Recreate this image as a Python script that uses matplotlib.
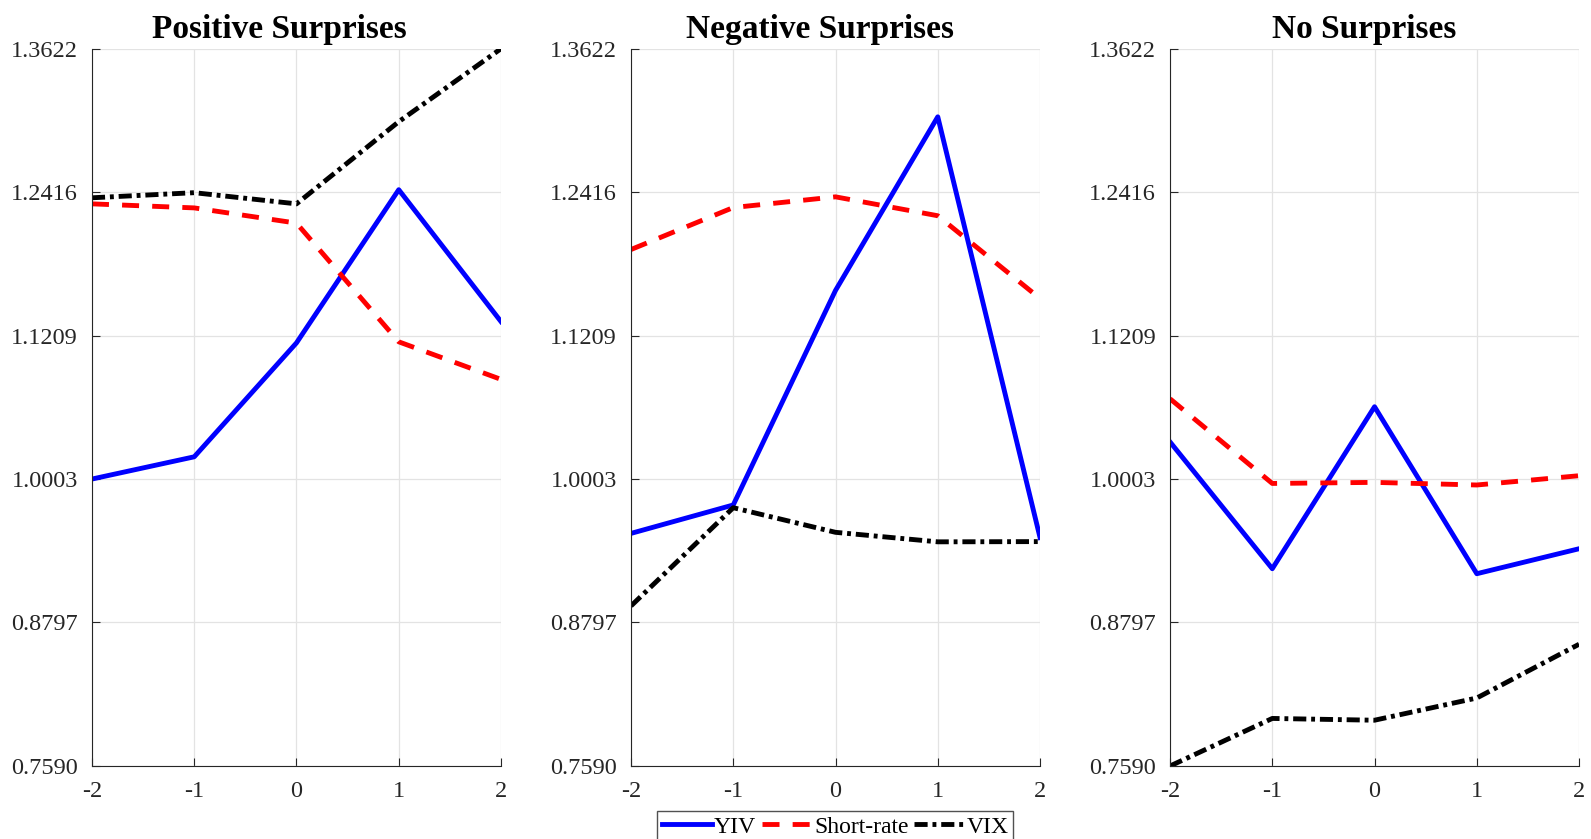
import matplotlib
matplotlib.use('Agg')
import matplotlib.pyplot as plt
import numpy as np

plt.rcParams['font.family'] = ['Liberation Serif', 'DejaVu Serif']
plt.rcParams['axes.unicode_minus'] = False

horizon = [-2, -1, 0, 1, 2]
yticks = [0.7590, 0.8797, 1.0003, 1.1209, 1.2416, 1.3622]
titles = ['Positive Surprises', 'Negative Surprises', 'No Surprises']

# responses per panel: YIV, short rate, VIX
yiv_pos = [1.0003, 1.0190, 1.1148, 1.2436, 1.1327]
sr_pos = [1.2317, 1.2283, 1.2155, 1.1157, 1.0841]
vix_pos = [1.2368, 1.2411, 1.2317, 1.3008, 1.3622]

yiv_neg = [0.9546, 0.9785, 1.1589, 1.3049, 0.9511]
sr_neg = [1.1933, 1.2286, 1.2376, 1.2217, 1.1521]
vix_neg = [0.8936, 0.9762, 0.9555, 0.9475, 0.9477]

yiv_none = [1.0315, 0.9249, 1.0611, 0.9207, 0.9417]
sr_none = [1.0678, 0.9966, 0.9975, 0.9953, 1.0031]
vix_none = [0.7590, 0.7990, 0.7975, 0.8162, 0.8614]

panels = [(yiv_pos, sr_pos, vix_pos),
          (yiv_neg, sr_neg, vix_neg),
          (yiv_none, sr_none, vix_none)]

fig = plt.figure(figsize=(15.91, 8.39), dpi=100)
lefts = [0.0578, 0.3966, 0.7354]
title_x = [0.458, 0.4615, 0.475]
lw = 3.5

for i, (yiv, sr, vix) in enumerate(panels):
    ax = fig.add_axes([lefts[i], 0.087, 0.2571, 0.855])
    l1, = ax.plot(horizon, yiv, color='#0000ff', lw=lw, label='YIV')
    l2, = ax.plot(horizon, sr, color='#ff0000', lw=lw, dashes=(3.5, 2.7),
                  label='Short-rate')
    l3, = ax.plot(horizon, vix, color='black', lw=lw,
                  dashes=(2.7, 1.0, 0.8, 1.0), label='VIX')
    ax.set_xlim(-2, 2)
    ax.set_ylim(yticks[0], yticks[-1])
    ax.set_xticks(horizon)
    ax.set_yticks(yticks)
    ax.set_yticklabels(['%.4f' % v for v in yticks])
    ax.grid(True, color='#e3e3e3', lw=0.9)
    ax.set_axisbelow(True)
    for s in ['top', 'right']:
        ax.spines[s].set_visible(False)
    for s in ['left', 'bottom']:
        ax.spines[s].set_color('#262626')
        ax.spines[s].set_linewidth(0.8)
    ax.tick_params(direction='in', length=6, width=0.8, colors='#262626',
                   labelsize=17.5)
    ax.tick_params(axis='y', pad=10)
    ax.tick_params(axis='x', pad=11)
    ax.set_title(titles[i], fontsize=24, fontweight='bold', pad=8,
                 x=title_x[i])

fig.legend(handles=[l1, l2, l3], loc='lower center', ncol=3,
           bbox_to_anchor=(0.525, -0.004), fontsize=17, frameon=True,
           fancybox=False, edgecolor='#262626', handlelength=2.1,
           handletextpad=0.1, columnspacing=0.25, borderpad=0.2,
           borderaxespad=0.0)

fig.savefig('out.png', dpi=100)
